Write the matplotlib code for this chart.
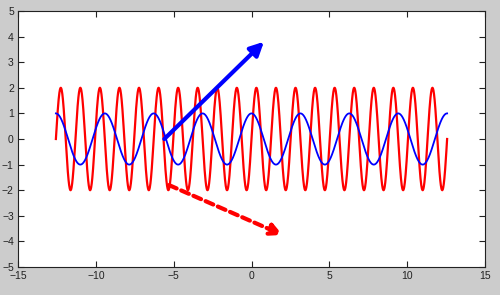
import numpy as np
import matplotlib
matplotlib.use('Agg')
import matplotlib.pyplot as plt

# curves: y = amp * f(freq * x) over x_range
x_range = [-4 * np.pi, 4 * np.pi]
red_amp, red_freq = 2.0, 5.0     # sine, starts at 0
blue_amp, blue_freq = 1.0, 2.0   # cosine, starts at 1

# arrows (tail -> head) in data coordinates
blue_arrow = [(-5.6, 0.0), (0.8, 3.8)]
red_arrow = [(-5.3, -1.8), (2.0, -3.75)]

x_ticks = [-15, -10, -5, 0, 5, 10, 15]
y_ticks = [-5, -4, -3, -2, -1, 0, 1, 2, 3, 4, 5]

plt.rcParams['font.family'] = ['Liberation Sans', 'DejaVu Sans']

fig = plt.figure(figsize=(5, 2.95), dpi=100, facecolor='#cccccc')
ax = fig.add_axes([18 / 500, 1 - 267 / 295, (485 - 18) / 500, (267 - 11) / 295])
ax.set_facecolor('white')

x = np.linspace(x_range[0], x_range[1], 2000)
ax.plot(x, red_amp * np.sin(red_freq * x), color='#ff0000', lw=1.6)
ax.plot(x, blue_amp * np.cos(blue_freq * x), color='#0000ff', lw=1.3)

ax.annotate('', xy=blue_arrow[1], xytext=blue_arrow[0],
            arrowprops=dict(arrowstyle='-|>,head_length=0.8,head_width=0.4',
                            color='#0000ff', lw=3, shrinkA=0, shrinkB=0))
ax.annotate('', xy=red_arrow[1], xytext=red_arrow[0],
            arrowprops=dict(arrowstyle='-|>,head_length=0.7,head_width=0.35',
                            color='#ff0000', lw=3, linestyle=(0, (2, 1.2)),
                            shrinkA=0, shrinkB=0))

ax.set_xlim(-15, 15)
ax.set_ylim(-5, 5)
ax.set_xticks(x_ticks)
ax.set_yticks(y_ticks)
ax.tick_params(direction='in', length=4, width=0.8, labelsize=7.5,
               top=True, right=True, colors='#222222', pad=3)
for s in ax.spines.values():
    s.set_linewidth(0.8)
    s.set_color('#222222')

fig.savefig('out.png', dpi=100, facecolor=fig.get_facecolor())
